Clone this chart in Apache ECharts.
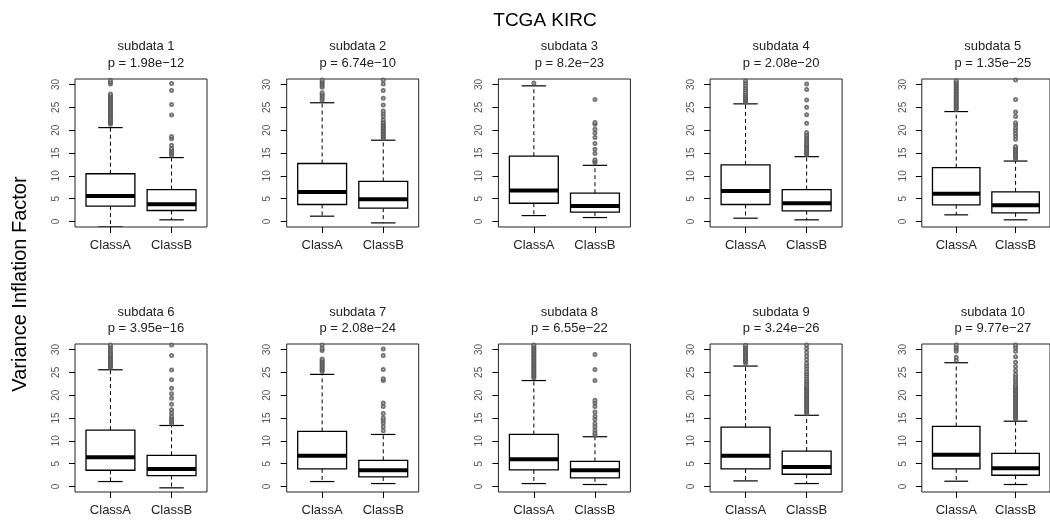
<!DOCTYPE html>
<html>
<head>
<meta charset="utf-8">
<script src="https://cdn.jsdelivr.net/npm/echarts@6/dist/echarts.min.js"></script>
<style>
  html, body { margin: 0; padding: 0; background: #fff; }
  #chart { width: 1050px; height: 523px; }
</style>
</head>
<body>
<div id="chart"></div>
<script>
// Variance inflation factor by class, ten subsets of TCGA KIRC
const mainTitle = 'TCGA KIRC';
const yAxisTitle = 'Variance Inflation Factor';
const categories = ['ClassA', 'ClassB'];
const panelNames = ['subdata 1', 'subdata 2', 'subdata 3', 'subdata 4', 'subdata 5',
                    'subdata 6', 'subdata 7', 'subdata 8', 'subdata 9', 'subdata 10'];
const pValues = ['1.98e\u221212', '6.74e\u221210', '8.2e\u221223', '2.08e\u221220', '1.35e\u221225',
                 '3.95e\u221216', '2.08e\u221224', '6.55e\u221222', '3.24e\u221226', '9.77e\u221227'];
const yTicks = [0, 5, 10, 15, 20, 25, 30];

// [lower whisker, Q1, median, Q3, upper whisker]
const statsA = [
  [-1.2, 3.37, 5.56, 10.46, 20.56],
  [1.17, 3.73, 6.44, 12.7, 26.0],
  [1.3, 4.0, 6.77, 14.3, 29.7],
  [0.73, 3.73, 6.66, 12.4, 25.76],
  [1.46, 3.66, 6.07, 11.8, 24.07],
  [1.09, 3.56, 6.39, 12.35, 25.56],
  [1.09, 3.85, 6.75, 12.06, 24.55],
  [0.65, 3.63, 5.96, 11.4, 23.2],
  [1.23, 3.85, 6.75, 13.0, 26.37],
  [1.16, 3.85, 6.97, 13.15, 27.1]
];
const statsB = [
  [0.37, 2.41, 3.8, 7.0, 14.0],
  [-0.3, 2.93, 4.9, 8.78, 17.8],
  [0.87, 2.04, 3.42, 6.2, 12.3],
  [0.37, 2.34, 4.0, 7.0, 14.2],
  [0.37, 1.9, 3.58, 6.5, 13.24],
  [-0.29, 2.4, 3.85, 6.83, 13.36],
  [0.65, 2.1, 3.56, 5.74, 11.4],
  [0.44, 1.89, 3.56, 5.52, 10.9],
  [0.65, 2.69, 4.28, 7.77, 15.6],
  [0.44, 2.47, 3.99, 7.26, 14.3]
];

// outlying points
const outliersA = [
  [21.3,21.6,21.9,22.2,22.5,22.8,23.1,23.4,23.7,24.0,24.3,24.6,24.9,25.2,25.5,25.8,26.1,26.4,26.7,27.0,27.3,27.6,27.9,30.1,30.5,30.9],
  [26.6,27.0,27.4,27.8,28.2,29.4,29.8,30.2,30.6,31.0],
  [30.3],
  [26.1,26.4,26.7,27.0,27.3,27.6,27.9,28.3,28.8,29.3,29.8,30.3,30.8],
  [24.5,24.8,25.1,25.4,25.7,26.0,26.3,26.6,26.9,27.2,27.5,27.8,28.1,28.4,28.7,29.0,29.3,29.6,29.9,30.2,30.5,30.8],
  [26.0,26.3,26.6,26.9,27.2,27.5,27.8,28.1,28.4,28.7,29.0,29.4,29.8,30.2,30.6,31.0],
  [25.2,25.5,25.8,26.1,26.4,26.7,27.0,27.3,27.6,27.9,29.8,30.2,31.0],
  [23.8,24.1,24.4,24.7,25.0,25.3,25.6,25.9,26.2,26.5,26.8,27.1,27.4,27.7,28.0,28.3,28.6,28.9,29.2,29.5,29.8,30.1,30.4,30.7,31.0],
  [27.0,27.3,27.6,27.9,28.2,28.5,28.8,29.1,29.4,29.7,30.0,30.3,30.6,30.9],
  [27.6,28.3,29.6,30.1,30.5,31.0]
];
const outliersB = [
  [14.5,14.9,15.3,15.6,16.0,16.7,18.1,18.6,23.3,25.6,28.7,30.2],
  [18.2,18.5,18.8,19.1,19.4,19.7,20.0,20.3,20.6,20.9,21.2,21.5,21.8,22.3,23.0,23.6,24.2,25.5,27.0,28.7,30.1,31.0],
  [12.9,13.2,13.5,14.9,15.8,17.1,18.4,19.4,20.2,21.3,21.7,26.7],
  [14.6,14.9,15.2,15.5,15.8,16.1,16.4,16.7,17.0,17.4,17.8,18.2,18.6,19.0,19.5,21.5,23.4,25.0,26.6,28.9,30.1],
  [13.7,14.0,14.3,14.6,14.9,15.2,15.5,15.8,16.1,16.4,18.0,18.7,19.3,20.0,20.5,21.2,21.6,23.0,24.0,26.7,31.0],
  [13.8,14.2,14.6,15.0,15.4,16.1,16.8,18.0,19.3,20.3,21.5,23.4,25.5,28.7,31.0],
  [12.2,13.1,13.9,14.5,15.0,16.0,17.5,18.3,23.2,23.6,25.6,28.7,30.1],
  [11.3,11.7,12.4,13.1,13.8,14.7,15.4,16.3,17.5,18.3,18.9,23.2,25.6,28.9],
  [16.0,16.3,16.6,16.9,17.2,17.5,17.8,18.1,18.4,18.7,19.0,19.3,19.6,19.9,20.2,20.5,20.8,21.1,21.4,21.7,22.0,22.4,22.8,23.2,23.7,24.2,24.7,25.2,25.8,26.4,27.0,27.8,28.6,29.4,30.2,31.0],
  [14.8,15.1,15.4,15.7,16.0,16.3,16.6,16.9,17.2,17.5,17.8,18.1,18.4,18.7,19.0,19.3,19.6,19.9,20.2,20.5,20.8,21.1,21.4,21.7,22.0,22.5,23.0,23.5,24.0,24.6,25.4,26.3,27.2,28.4,29.6,30.4,31.0]
];

// ---- layout ----
const FONT = 'Liberation Sans, Arial, sans-serif';
const colLeft = [75, 286.7, 498.4, 710.1, 921.8];
const rowTop = [79, 344];
const plotW = 132, plotH = 148;

const grids = [], xAxes = [], yAxes = [], series = [], titles = [];

titles.push({
  text: mainTitle, left: 540, top: 6, textAlign: 'center',
  textStyle: { fontFamily: FONT, fontSize: 19, fontWeight: 'normal', color: '#000' }
});

function renderBox(params, api) {
  const x = api.value(0);
  const low = api.value(1), q1 = api.value(2), med = api.value(3), q3 = api.value(4), high = api.value(5);
  const c = v => api.coord([x, v]);
  const boxTL = api.coord([x - 0.4, q3]);
  const boxBR = api.coord([x + 0.4, q1]);
  const capL = api.coord([x - 0.2, 0])[0];
  const capR = api.coord([x + 0.2, 0])[0];
  const medL = api.coord([x - 0.4, med]);
  const medR = api.coord([x + 0.4, med]);
  const dash = { stroke: '#000', lineWidth: 1, lineDash: [4, 3] };
  const solid = { stroke: '#000', lineWidth: 1.2 };
  return {
    type: 'group',
    children: [
      { type: 'line', shape: { x1: c(q3)[0], y1: c(q3)[1], x2: c(high)[0], y2: c(high)[1] }, style: dash },
      { type: 'line', shape: { x1: c(q1)[0], y1: c(q1)[1], x2: c(low)[0], y2: c(low)[1] }, style: dash },
      { type: 'line', shape: { x1: capL, y1: c(high)[1], x2: capR, y2: c(high)[1] }, style: solid },
      { type: 'line', shape: { x1: capL, y1: c(low)[1], x2: capR, y2: c(low)[1] }, style: solid },
      { type: 'rect', shape: { x: boxTL[0], y: boxTL[1], width: boxBR[0] - boxTL[0], height: boxBR[1] - boxTL[1] },
        style: { fill: '#fff', stroke: '#000', lineWidth: 1.3 } },
      { type: 'line', shape: { x1: medL[0], y1: medL[1], x2: medR[0], y2: medR[1] },
        style: { stroke: '#000', lineWidth: 4 } }
    ]
  };
}

for (let i = 0; i < 10; i++) {
  const row = Math.floor(i / 5), col = i % 5;
  const left = colLeft[col], top = rowTop[row];
  grids.push({
    left: left, top: top, width: plotW, height: plotH,
    show: true, borderColor: '#222', borderWidth: 1, backgroundColor: 'transparent',
    containLabel: false
  });
  xAxes.push({
    type: 'value', gridIndex: i, min: 0.42, max: 2.58,
    axisLine: { show: false, onZero: false },
    splitLine: { show: false },
    axisTick: { show: true, length: 6, customValues: [1, 2], lineStyle: { color: '#000', width: 1 } },
    axisLabel: {
      customValues: [1, 2], margin: 12,
      formatter: v => categories[Math.round(v) - 1],
      fontFamily: FONT, fontSize: 13, color: '#222'
    }
  });
  yAxes.push({
    type: 'value', gridIndex: i, min: -1.2, max: 31.2,
    axisLine: { show: false, onZero: false },
    splitLine: { show: false },
    axisTick: { show: true, length: 6, customValues: yTicks, lineStyle: { color: '#000', width: 1 } },
    axisLabel: {
      customValues: yTicks, rotate: 90, margin: 14,
      fontFamily: FONT, fontSize: 10, color: '#555'
    }
  });
  titles.push({
    text: panelNames[i] + '\np = ' + pValues[i],
    left: left + plotW / 2, top: row === 0 ? 33.5 : 299, textAlign: 'center',
    textStyle: { fontFamily: FONT, fontSize: 13, fontWeight: 'normal', color: '#222', lineHeight: 16.5 }
  });
  series.push({
    type: 'custom', xAxisIndex: i, yAxisIndex: i, clip: true,
    renderItem: renderBox,
    encode: { x: 0, y: [1, 2, 3, 4, 5] },
    data: [[1].concat(statsA[i]), [2].concat(statsB[i])],
    z: 2
  });
  const pts = outliersA[i].map(v => [1, v]).concat(outliersB[i].map(v => [2, v]));
  series.push({
    type: 'scatter', xAxisIndex: i, yAxisIndex: i, clip: true,
    symbol: 'emptyCircle', symbolSize: 3,
    itemStyle: { color: '#555', borderColor: '#555', borderWidth: 0.8 },
    data: pts, z: 3, silent: true
  });
}

const chart = echarts.init(document.getElementById('chart'), null, { renderer: 'canvas' });
chart.setOption({
  animation: false,
  backgroundColor: '#fff',
  title: titles,
  grid: grids,
  xAxis: xAxes,
  yAxis: yAxes,
  series: series,
  graphic: [{
    type: 'text', x: 20, y: 284, rotation: Math.PI / 2,
    style: {
      text: yAxisTitle, fontFamily: FONT, fontSize: 20, fill: '#000',
      textAlign: 'center', textVerticalAlign: 'middle'
    }
  }]
});
</script>
</body>
</html>
